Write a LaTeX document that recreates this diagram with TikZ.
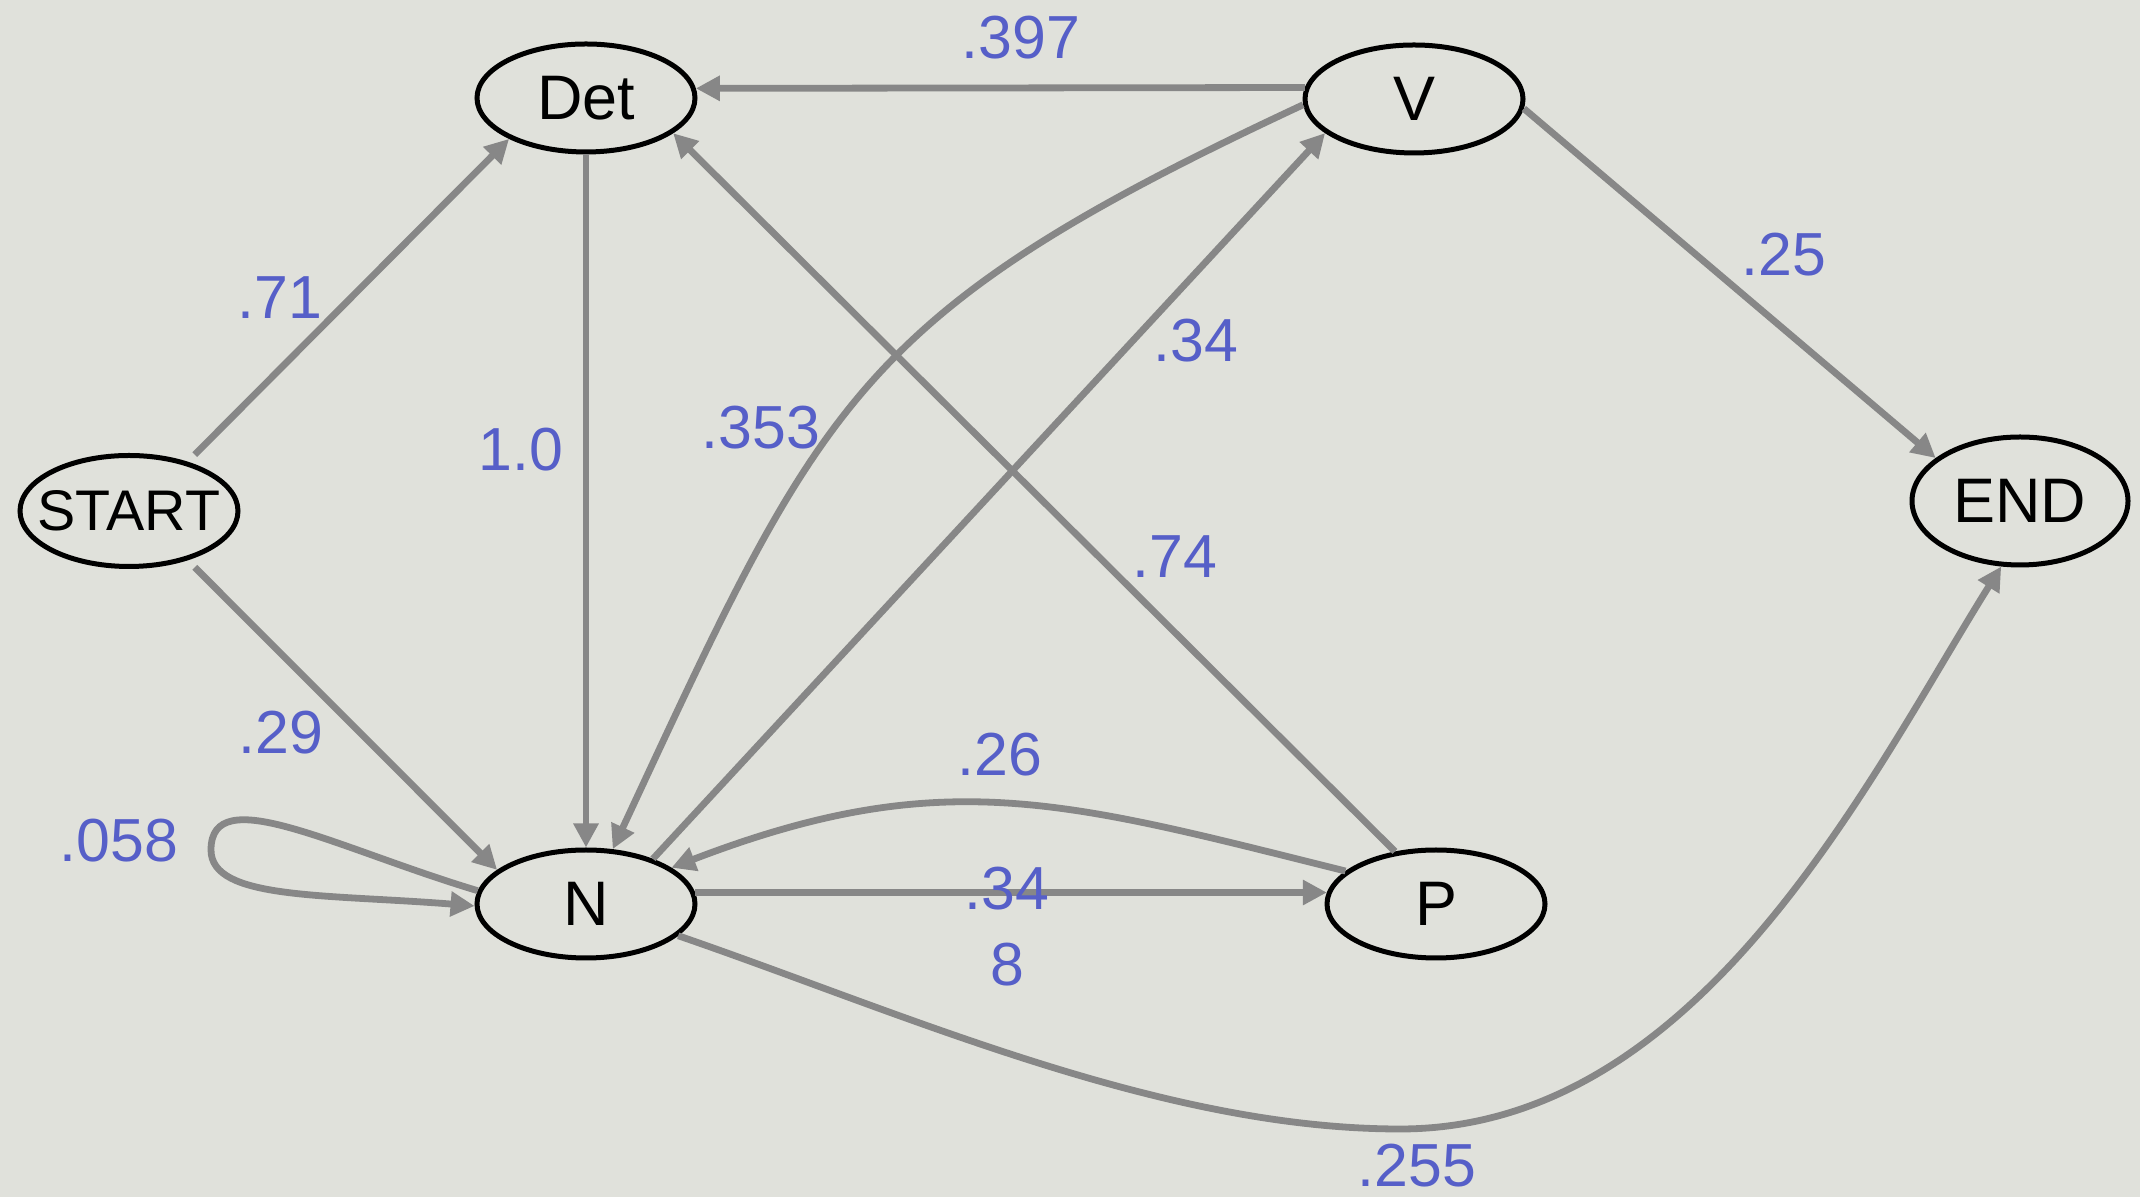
\documentclass[tikz,border=0pt]{standalone}
\usepackage{fontspec}
\setmainfont{Liberation Sans}
\usetikzlibrary{shapes.geometric,arrows.meta}

\definecolor{bgcol}{RGB}{224,225,219}
\definecolor{edgecol}{RGB}{135,135,135}
\definecolor{probcol}{RGB}{86,95,200}

\begin{document}
\begin{tikzpicture}[x=0.1mm, y=0.1mm,
    state/.style={ellipse, draw=black, line width=0.5mm, inner sep=0pt,
      minimum width=21.8mm, minimum height=10.8mm,
      font=\fontsize{17.9}{20}\selectfont},
    edge/.style={draw=edgecol, line width=0.68mm,
      -{Triangle[length=2.4mm, width=2.4mm]}},
    prob/.style={text=probcol, inner sep=0pt,
      font=\fontsize{17.3}{21.6}\selectfont}]
  \fill[bgcol] (0,0) rectangle (2140,1197);
  \useasboundingbox (0,0) rectangle (2140,1197);

  % States
  \node[state, minimum height=11.1mm] (START) at (129,686)
    {\fontsize{16.3}{18}\selectfont\makebox[0pt]{START}};
  \node[state] (Det) at (586,1099) {Det};
  \node[state] (V) at (1414,1098) {V};
  \node[state, minimum width=21.6mm, minimum height=12.8mm] (END) at (2020,696) {END};
  \node[state] (N) at (586,293) {N};
  \node[state] (P) at (1436,293) {P};

  % Transitions
  \draw[edge, shorten <=1mm] (START.40) -- (Det.208);
  \draw[edge, shorten <=1mm] (START.320) -- (N.159);
  \draw[edge] (Det.south) -- (N.north);
  \draw[edge] (V.174) -- (Det.5);
  \draw[edge] (N.34) -- (V.201);
  \draw[edge] (P.128) -- (Det.338);
  \draw[edge] (V.355) -- (END.153);
  \draw[edge] (V.183) to[out=205, in=65, looseness=1.25] (N.64);
  \draw[edge] (P.160) to[out=166, in=21, looseness=1.1] (N.23);
  \draw[edge] (N.6) -- (P.174);
  \draw[edge] (N.341) .. controls +(-19:240) and +(-240,0) .. (1400,68)
    .. controls +(300,0) and +(238:250) .. (END.254);
  % self loop on N
  \draw[edge] (N.173) .. controls +(-143,43) and +(0,70) .. (211,347)
    .. controls +(0,-50) and +(-150,12) .. (N.181);

  % Probabilities
  \node[prob] (pVDet) at (1021,1159) {.397};
  \node[prob] (pSDet) at (280,899) {.71};
  \node[prob] (pDetN) at (521,747) {1.0};
  \node[prob] (pVN) at (761,769) {.353};
  \node[prob] (pNV) at (1196,856) {.34};
  \node[prob] (pVE) at (1784,942) {.25};
  \node[prob] (pPDet) at (1175,640) {.74};
  \node[prob] (pSN) at (281,464) {.29};
  \node[prob] (pPN) at (1000,442) {.26};
  \node[prob] (pNN) at (119,356) {.058};
  \node[prob, align=center] (pNP) at (1007,270) {.34\\8};
  \node[prob] (pNE) at (1417,31) {.255};
\end{tikzpicture}
\end{document}
